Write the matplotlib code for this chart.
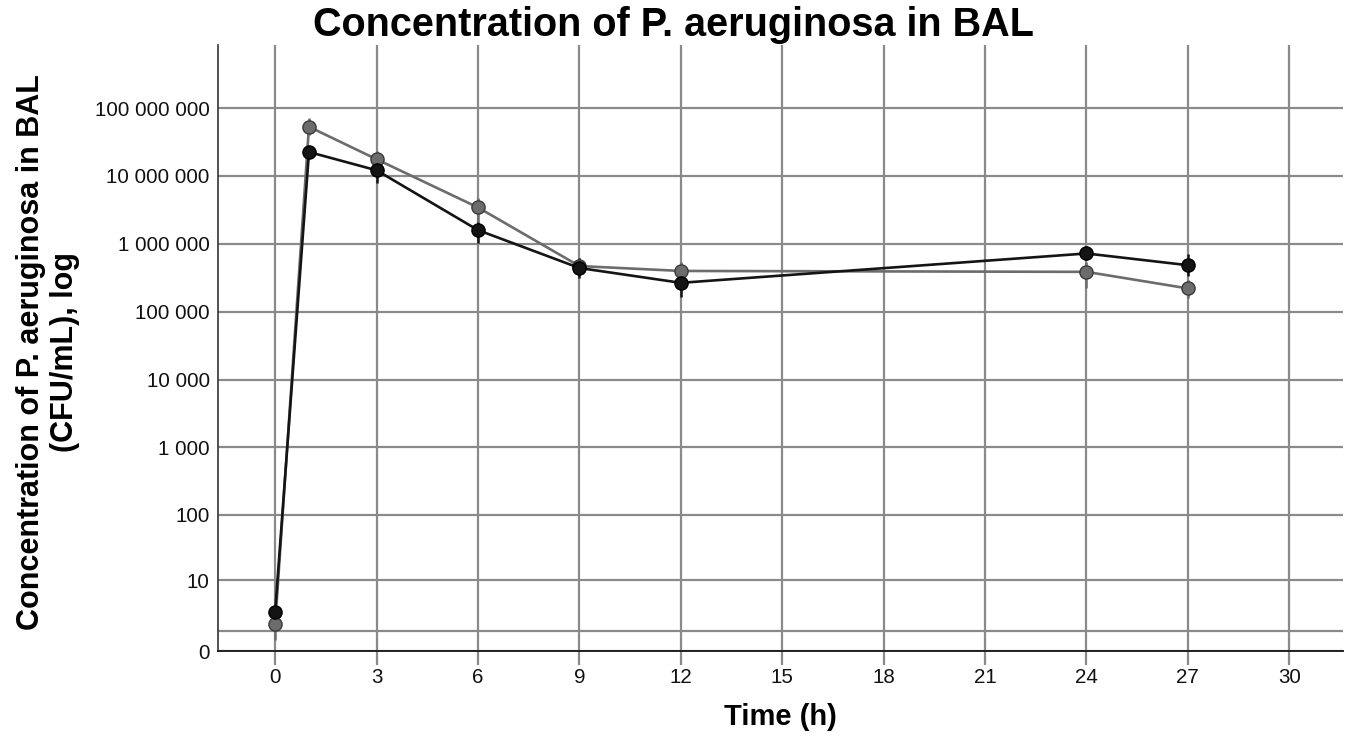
import numpy as np
import matplotlib
matplotlib.use("Agg")
import matplotlib.pyplot as plt
from matplotlib.ticker import FixedLocator, FuncFormatter

# time points (h)
time_h = [0, 1, 3, 6, 9, 12, 24, 27]

# black series: mean and error bar ends (CFU/mL)
black_mean = [2.8, 2.25e7, 1.21e7, 1.59e6, 4.4e5, 2.66e5, 7.2e5, 4.84e5]
black_low = [2.2, 1.82e7, 7.8e6, 1.02e6, 3.1e5, 1.64e5, 5.7e5, 3.3e5]
black_high = [3.6, 2.74e7, 1.54e7, 2.08e6, 6.1e5, 3.8e5, 9.2e5, 7.0e5]

# gray series
gray_mean = [1.5, 5.3e7, 1.76e7, 3.43e6, 4.7e5, 3.98e5, 3.86e5, 2.2e5]
gray_low = [0.45, 4.0e7, 1.4e7, 2.1e6, 3.8e5, 2.9e5, 2.2e5, 1.6e5]
gray_high = [2.4, 7.1e7, 2.3e7, 4.7e6, 6.1e5, 5.4e5, 5.4e5, 2.9e5]

y_ticks = [0, 1, 10, 100, 1000, 1e4, 1e5, 1e6, 1e7, 1e8]
x_ticks = list(range(0, 31, 3))

title = "Concentration of P. aeruginosa in BAL"
ylabel = "Concentration of P. aeruginosa in BAL\n(CFU/mL), log"
xlabel = "Time (h)"

GRID = "#8a8a8a"
FONT = ["Liberation Sans", "DejaVu Sans"]


def fwd(v):
    return np.log10(np.clip(v, 0, None) + 1)


def inv(t):
    return 10 ** t - 1


def fmt(v, pos):
    if v == 1:
        return ""
    return f"{int(round(v)):,}".replace(",", " ")


fig = plt.figure(figsize=(13.46, 7.42), dpi=100)
ax = fig.add_axes([0.162, 0.1226, 0.836, 0.8164])
ax.set_yscale("function", functions=(fwd, inv))
ax.set_ylim(0, 10 ** 8.925 - 1)
ax.set_xlim(-1.69, 31.6)

ax.yaxis.set_major_locator(FixedLocator(y_ticks))
ax.yaxis.set_major_formatter(FuncFormatter(fmt))
ax.yaxis.set_minor_locator(FixedLocator([]))
ax.set_xticks(x_ticks)
ax.grid(True, color=GRID, linewidth=1.6)
ax.set_axisbelow(True)

for mean, low, high, col, edge in [
    (gray_mean, gray_low, gray_high, "#6c6c6c", "#3a3a3a"),
    (black_mean, black_low, black_high, "#141414", "#000000"),
]:
    mean = np.array(mean)
    err = [mean - np.array(low), np.array(high) - mean]
    ax.errorbar(time_h, mean, yerr=err, color=col, ecolor=col, elinewidth=1.8,
                capsize=0, linewidth=1.9, marker="o", markersize=9.5,
                markerfacecolor=col, markeredgecolor=edge, markeredgewidth=1.0,
                zorder=3)

for s in ["top", "right"]:
    ax.spines[s].set_visible(False)
ax.spines["left"].set_color("#333333")
ax.spines["bottom"].set_color("#222222")
ax.spines["left"].set_linewidth(1.2)
ax.spines["bottom"].set_linewidth(1.4)

ax.tick_params(axis="y", length=0, pad=6, labelsize=14.8, labelcolor="#111111")
ax.tick_params(axis="x", length=10, width=1.6, color=GRID, pad=2,
               labelsize=14.8, labelcolor="#111111")
for lbl in ax.get_xticklabels() + ax.get_yticklabels():
    lbl.set_family(FONT)

fig.text(780 / 1346, 1 - 717 / 742, xlabel, fontsize=21, fontweight="bold",
         family=FONT, ha="center", va="center")
fig.text(48 / 1346, 1 - 352 / 742, ylabel, fontsize=22, fontweight="bold",
         family=FONT, ha="center", va="center", rotation=90,
         multialignment="center", linespacing=1.15)
fig.text(0.5, 1 - 25 / 742, title, fontsize=28.5, fontweight="bold",
         family=FONT, ha="center", va="center")

fig.savefig("out.png", dpi=100)
